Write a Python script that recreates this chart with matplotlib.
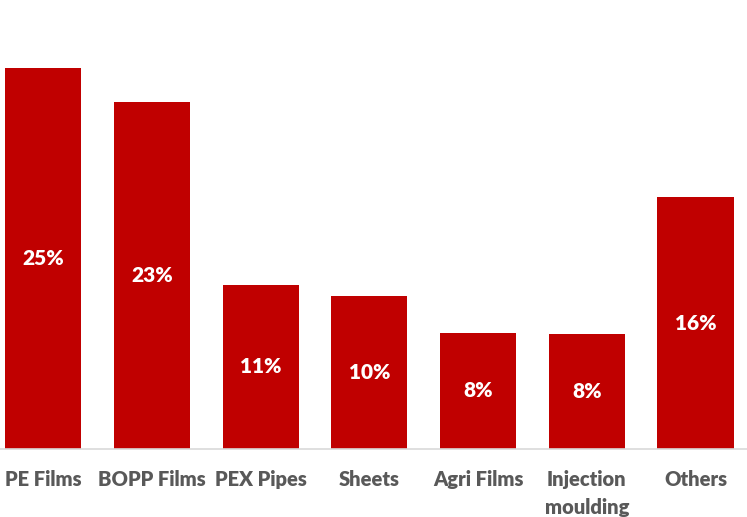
import matplotlib.pyplot as plt

categories = ["PE Films", "BOPP Films", "PEX Pipes", "Sheets", "Agri Films", "Injection\nmoulding", "Others"]
shares = [24.8, 22.6, 10.7, 10.0, 7.56, 7.52, 16.4]

plt.rcParams["font.family"] = ["Lato", "DejaVu Sans"]

fig = plt.figure(figsize=(7.47, 5.17), dpi=100)
# plot area runs from the baseline up to the top edge of the figure
ax = fig.add_axes([0, 1 - 449 / 517, 1, 449 / 517])

x = range(len(categories))
ax.bar(x, shares, width=0.70, color="#C00000", zorder=2)

for i, v in enumerate(shares):
    ax.text(i, v / 2, f"{v:.0f}%", ha="center", va="center",
            color="white", fontsize=15, fontweight="heavy")

ax.set_xlim(-0.398, 6.474)
ax.set_ylim(0, 449 / 15.35)

ax.set_xticks(list(x))
ax.set_xticklabels(categories, fontsize=14.5, fontweight="heavy", color="#595959",
                   linespacing=1.6, va="top")
ax.tick_params(axis="x", length=0, pad=15)
ax.set_yticks([])

for side in ["top", "left", "right"]:
    ax.spines[side].set_visible(False)
ax.spines["bottom"].set_color("#D9D9D9")
ax.spines["bottom"].set_linewidth(1.2)

plt.savefig("out.png", dpi=100)
